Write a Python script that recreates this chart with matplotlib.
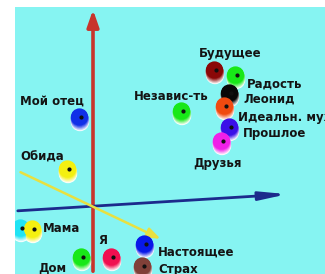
import matplotlib.pyplot as plt
import numpy as np
from matplotlib.colors import to_rgb

# Точки (проекция на плоскость экрана, начало координат в пересечении осей)
labels = ["Будущее", "Радость", "Леонид", "Идеальн. муж", "Прошлое", "Друзья",
          "Независ-ть", "Мой отец", "Обида", "", "Мама", "Я", "Дом",
          "Настоящее", "Страх"]
xs = [122, 143, 137, 132, 137, 129, 89, -13, -25, -72, -60, 19, -11, 52, 50]
ys = [134, 129, 111, 98, 77, 63, 93, 87, 35, -24, -25, -53, -53, -40, -62]
colors = ["#8a0808", "#18e818", "#080808", "#f04a10", "#3a10e8", "#f020e8",
          "#18e818", "#1030e8", "#f4f010", "#20e4f4", "#f4f010", "#f01050",
          "#18e818", "#0818e8", "#804038"]

# смещение подписи относительно шара и выравнивание
label_pos = {
    "Будущее": (15, 18, "center"),
    "Радость": (11, -8, "left"),
    "Леонид": (13, -5, "left"),
    "Идеальн. муж": (13, -10, "left"),
    "Прошлое": (13, -6, "left"),
    "Друзья": (-4, -21, "center"),
    "Независ-ть": (-11, 16, "center"),
    "Мой отец": (-28, 17, "center"),
    "Обида": (-26, 13, "center"),
    "Мама": (10, 2, "left"),
    "Я": (-9, 18, "center"),
    "Дом": (-30, -10, "center"),
    "Настоящее": (13, -7, "left"),
    "Страх": (15, -3, "left"),
}

bg = "#86f4f2"

fig = plt.figure(figsize=(3.25, 2.74), dpi=100)
ax = fig.add_axes([15 / 325, 0, 310 / 325, 267 / 274])
ax.set_facecolor(bg)
ax.set_xlim(-78, 232)
ax.set_ylim(-69, 198)
ax.set_xticks([])
ax.set_yticks([])
for s in ax.spines.values():
    s.set_visible(False)

# оси
ax.annotate("", xy=(0, 198), xytext=(0, -69),
            arrowprops=dict(arrowstyle="-|>,head_length=1.0,head_width=0.35",
                            color="#c8342c", lw=2.6))
ax.annotate("", xy=(197, 11), xytext=(-78, -6),
            arrowprops=dict(arrowstyle="-|>,head_length=1.6,head_width=0.25",
                            color="#1c2a8c", lw=2.0))
ax.annotate("", xy=(70, -35), xytext=(-75, 34),
            arrowprops=dict(arrowstyle="-|>,head_length=0.8,head_width=0.3",
                            color="#e8e040", lw=1.8))

# шары: градиент от белого снизу к цвету сверху
n = 8
for x, y, c in zip(xs, ys, colors):
    rgb = np.array(to_rgb(c))
    for k in range(n):
        t = k / (n - 1)
        col = (1 - t) * np.ones(3) + t * rgb
        ax.scatter(x - 0.5 * t, y - 4 + 5 * t, s=175 - 20 * t, color=col,
                   edgecolors="none", zorder=3 + k * 0.01)
    ax.scatter(x + 1, y + 1, s=4, color="#101010", zorder=4)

for lab, x, y in zip(labels, xs, ys):
    if not lab:
        continue
    dx, dy, ha = label_pos[lab]
    ax.text(x + dx, y + dy, lab, ha=ha, va="center", fontsize=8.5,
            fontweight="bold", color="#141414", zorder=5)

fig.savefig("out.png", dpi=100, facecolor="white")
